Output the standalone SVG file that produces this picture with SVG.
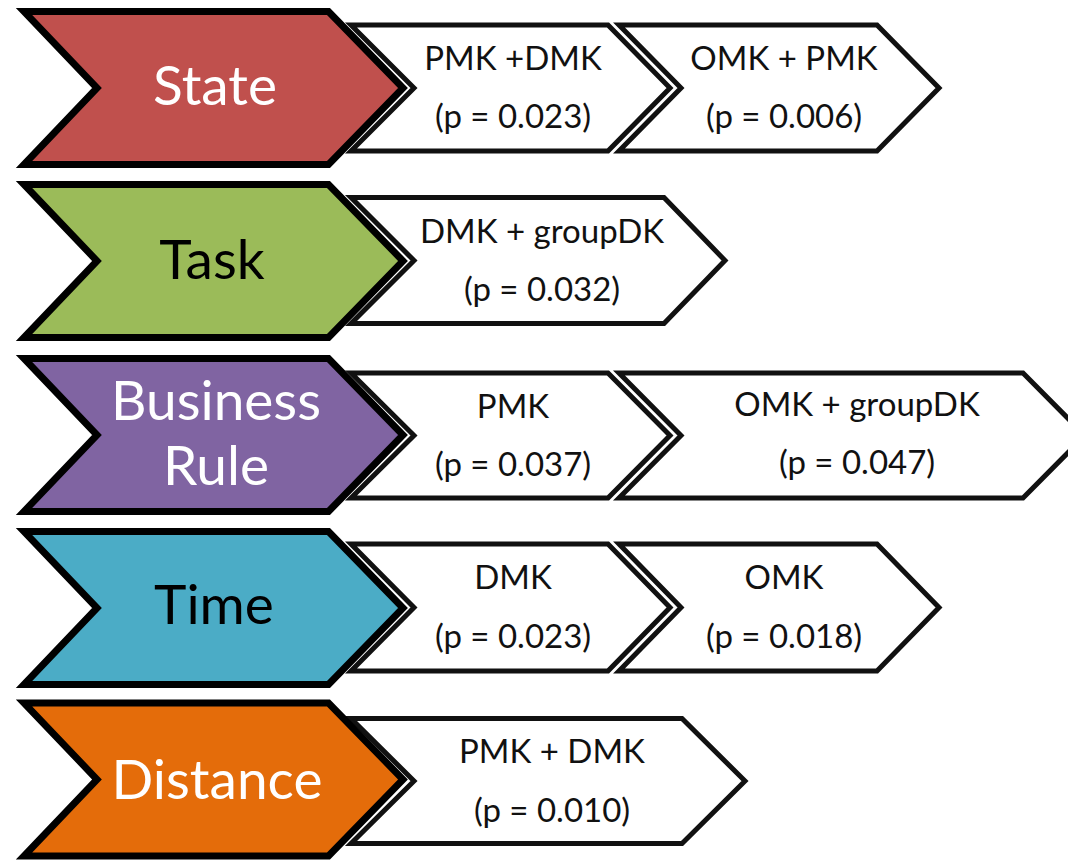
<svg xmlns="http://www.w3.org/2000/svg" width="1068" height="860" viewBox="0 0 1068 860">
  <style>
    .cat { stroke: #000; stroke-width: 7; stroke-linejoin: miter; }
    .box { fill: #fff; stroke: #111; stroke-width: 5; stroke-linejoin: miter; }
    .red { fill: #C0504D; }
    .green { fill: #9BBB59; }
    .purple { fill: #8064A2; }
    .cyan { fill: #4BACC6; }
    .orange { fill: #E46C0A; }
    .big { font-family: Lato, "Open Sans", "Liberation Sans", sans-serif; font-size: 55px; text-anchor: middle; }
    .small { font-family: Lato, "Open Sans", "Liberation Sans", sans-serif; font-size: 33px; text-anchor: middle; fill: #111; }
    .light { fill: #fff; }
    .dark { fill: #000; }
  </style>
  <rect width="1068" height="860" fill="#fff"/>

  <!-- result chevrons (drawn first so the category chevrons sit on top) -->
  <g id="state-pmk-dmk">
    <polygon class="box" points="351,25 608,25 670,88 608,151 351,151 414,88"/>
    <text class="small" x="513" y="70">PMK +DMK</text>
    <text class="small" x="513" y="128">(p = 0.023)</text>
  </g>
  <g id="state-omk-pmk">
    <polygon class="box" points="619,25 877,25 939,88 877,151 619,151 681,88"/>
    <text class="small" x="784" y="70">OMK + PMK</text>
    <text class="small" x="784" y="128">(p = 0.006)</text>
  </g>
  <g id="task-dmk-groupdk">
    <polygon class="box" points="351,197.5 664,197.5 725,260.5 664,323.5 351,323.5 414,260.5"/>
    <text class="small" x="542" y="243">DMK + groupDK</text>
    <text class="small" x="542" y="301">(p = 0.032)</text>
  </g>
  <g id="rule-pmk">
    <polygon class="box" points="351,373 608,373 670,435.5 608,498 351,498 414,435.5"/>
    <text class="small" x="513" y="418">PMK</text>
    <text class="small" x="513" y="476">(p = 0.037)</text>
  </g>
  <g id="rule-omk-groupdk">
    <polygon class="box" points="619,373 1023,373 1085,435.5 1023,498 619,498 681,435.5"/>
    <text class="small" x="857" y="416">OMK + groupDK</text>
    <text class="small" x="857" y="474">(p = 0.047)</text>
  </g>
  <g id="time-dmk">
    <polygon class="box" points="351,544 608,544 670,607.5 608,671 351,671 414,607.5"/>
    <text class="small" x="513" y="589">DMK</text>
    <text class="small" x="513" y="648">(p = 0.023)</text>
  </g>
  <g id="time-omk">
    <polygon class="box" points="619,544 877,544 939,607.5 877,671 619,671 681,607.5"/>
    <text class="small" x="784" y="589">OMK</text>
    <text class="small" x="784" y="648">(p = 0.018)</text>
  </g>
  <g id="distance-pmk-dmk">
    <polygon class="box" points="351,718.5 682,718.5 745,781 682,843.5 351,843.5 414,781"/>
    <text class="small" x="552" y="763">PMK + DMK</text>
    <text class="small" x="552" y="822">(p = 0.010)</text>
  </g>

  <!-- category chevrons -->
  <g id="state">
    <polygon class="cat red" points="24,11.5 328.5,11.5 403,88 328.5,164.5 24,164.5 97,88"/>
    <text class="big light" x="215" y="105">State</text>
  </g>
  <g id="task">
    <polygon class="cat green" points="24,184.5 328.5,184.5 403,261 328.5,337.5 24,337.5 97,261"/>
    <text class="big dark" x="212" y="279">Task</text>
  </g>
  <g id="business-rule">
    <polygon class="cat purple" points="24,358.5 328.5,358.5 403,435 328.5,511.5 24,511.5 97,435"/>
    <text class="big light" x="216" y="419.5">Business</text>
    <text class="big light" x="216" y="485">Rule</text>
  </g>
  <g id="time">
    <polygon class="cat cyan" points="24,531.5 328.5,531.5 403,608 328.5,684.5 24,684.5 97,608"/>
    <text class="big dark" x="214" y="624">Time</text>
  </g>
  <g id="distance">
    <polygon class="cat orange" points="24,703 328.5,703 403,779.5 328.5,856 24,856 97,779.5"/>
    <text class="big light" x="217" y="799">Distance</text>
  </g>
</svg>
